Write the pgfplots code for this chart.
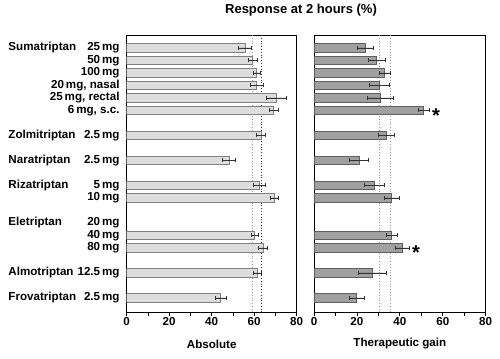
\documentclass[border=0pt]{standalone}
\usepackage{fontspec}
\setmainfont{Liberation Sans}
\usepackage{pgfplots}
\pgfplotsset{compat=1.18}
\usepackage{pgfplotstable}

\definecolor{lfill}{RGB}{221,221,221}
\definecolor{ledge}{RGB}{128,128,128}
\definecolor{rfill}{RGB}{160,160,160}
\definecolor{redge}{RGB}{95,95,95}
\definecolor{errc}{RGB}{50,50,50}

\pgfplotstableread{
y x e
0 55.7 3.0
1 59.3 2.0
2 61.2 1.8
3 61.2 3.0
4 70.4 4.5
5 69.2 2.1
7 63.3 2.1
9 48.1 3.2
11 62.4 2.7
12 69.4 2.0
15 60.2 1.7
16 64.1 2.2
18 61.5 1.8
20 44.2 2.5
}\absdata

\pgfplotstableread{
y x e
0 23.8 3.8
1 29.1 4.0
2 33.0 2.5
3 30.3 4.7
4 31.0 6.0
5 51.2 2.6
7 33.9 3.7
9 21.0 4.3
11 28.1 4.6
12 36.2 3.6
15 36.2 2.5
16 41.2 3.1
18 27.2 6.4
20 19.9 3.5
}\gaindata

\newcommand{\lab}[2]{\makebox[111bp][l]{#1\hfill #2}}
\newcommand{\fnt}{\fontsize{11.6bp}{12bp}\selectfont\bfseries}

\pgfplotsset{panel/.style={
  scale only axis, height=277.7bp,
  xmin=0, xmax=80, ymin=-1.04, ymax=21.18, y dir=reverse,
  xtick={0,20,40,60,80}, minor xtick={10,30,50,70},
  tick align=outside, xtick pos=left,
  major tick length=3bp, minor tick length=3bp,
  tick style={black, line width=0.8bp},
  axis line style={line width=0.9bp},
  /pgf/number format/assume math mode=true,
  ticklabel style={font=\fnt},
  xticklabel style={inner sep=0pt, anchor=north, yshift=-1.5bp},
  xlabel style={font=\fnt, at={(axis description cs:0.5,0)}, anchor=center, yshift=-31.3bp},
  ytick style={draw=none},
  err/.style={error bars/.cd, x dir=both, x explicit,
    error bar style={errc, line width=0.7bp},
    error mark=|,
    error mark options={errc, mark size=2bp, line width=0.7bp}},
}}

\begin{document}
\begin{tikzpicture}
\useasboundingbox (0,0) rectangle (500bp,359bp);
\begin{axis}[panel, at={(126.7bp,46.3bp)}, anchor=south west, width=170bp,
  xlabel={Absolute},
  ytick={0,1,2,3,4,5,7,9,11,12,14,15,16,18,20},
  yticklabels={{\lab{Sumatriptan}{25\,mg}},{\lab{}{50\,mg}},{\lab{}{100\,mg}},{\lab{}{20\,mg, nasal}},{\lab{}{25\,mg, rectal}},{\lab{}{6\,mg, s.c.}},{\lab{Zolmitriptan}{2.5\,mg}},{\lab{Naratriptan}{2.5\,mg}},{\lab{Rizatriptan}{5\,mg}},{\lab{}{10\,mg}},{\lab{Eletriptan}{20\,mg}},{\lab{}{40\,mg}},{\lab{}{80\,mg}},{\lab{Almotriptan}{12.5\,mg}},{\lab{Frovatriptan}{2.5\,mg}}},
  yticklabel style={anchor=east, inner sep=0pt, xshift=-4bp},
]
\addplot[gray!80, dotted, line width=0.8bp] coordinates {(59.2,-1.04) (59.2,21.18)};
\addplot[black!80, dotted, line width=0.8bp] coordinates {(63.3,-1.04) (63.3,21.18)};
\addplot[xbar, bar width=8.5bp, fill=lfill, draw=ledge, line width=0.8bp, err]
  table[x=x, y=y, x error=e] {\absdata};
\end{axis}
\begin{axis}[panel, at={(314bp,46.3bp)}, anchor=south west, width=171.7bp,
  xlabel={Therapeutic gain}, ytick=\empty]
\addplot[gray!80, dotted, line width=0.8bp] coordinates {(30.3,-1.04) (30.3,21.18)};
\addplot[gray!80, dotted, line width=0.8bp] coordinates {(35.4,-1.04) (35.4,21.18)};
\addplot[xbar, bar width=8.5bp, fill=rfill, draw=redge, line width=0.8bp, err]
  table[x=x, y=y, x error=e] {\gaindata};
\node[font=\fontsize{20bp}{20bp}\selectfont\bfseries, yshift=-5bp] at (axis cs:56.8,5) {*};
\node[font=\fontsize{20bp}{20bp}\selectfont\bfseries, yshift=-5bp] at (axis cs:47.5,16) {*};
\end{axis}
\node[font=\fontsize{13bp}{14bp}\selectfont\bfseries] at (301bp,349bp) {Response at 2 hours (\%)};
\end{tikzpicture}
\end{document}
